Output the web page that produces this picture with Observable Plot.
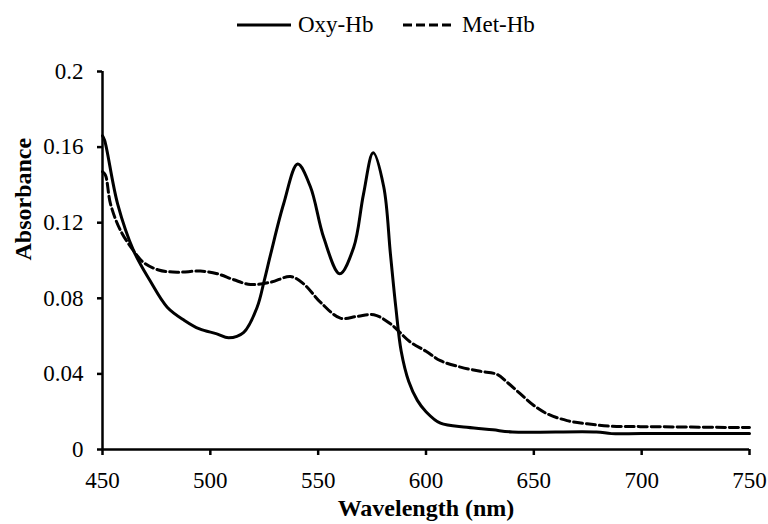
<!DOCTYPE html>
<html>
<head>
<meta charset="utf-8">
<script src="https://cdn.jsdelivr.net/npm/d3@7"></script>
<script src="https://cdn.jsdelivr.net/npm/@observablehq/plot@0.6"></script>
<style>
  html, body { margin: 0; padding: 0; background: #fff; }
  body { width: 768px; height: 524px; overflow: hidden; font-family: "Liberation Serif", "Tinos", "DejaVu Serif", serif; }
  #legend { position: relative; height: 50px; width: 768px; font-size: 23px; color: #000; }
  #legend .item { position: absolute; top: 11px; display: flex; align-items: center; height: 28px; white-space: nowrap; }
  #legend svg { margin-right: 7px; }
  #chart svg text { font-family: "Liberation Serif", "Tinos", "DejaVu Serif", serif; }
</style>
</head>
<body>
<div id="legend"></div>
<div id="chart"></div>
<script>
// Oxy-Hb (solid) spectrum: wavelength (nm), absorbance
const oxyWavelength = [450, 451, 457, 464.5, 472, 480, 488, 495, 503, 508.5, 515.5, 521.7, 525, 528, 534, 540.5, 546.4, 552.6, 560, 566.5, 571, 575.5, 580.4, 583.5, 586, 588.5, 592, 596, 600, 606.7, 619, 631, 640, 679, 686, 700, 750];
const oxyAbsorbance = [0.166, 0.1635, 0.130, 0.105, 0.0894, 0.0753, 0.0683, 0.0638, 0.0612, 0.0591, 0.062, 0.0753, 0.0894, 0.1035, 0.130, 0.151, 0.139, 0.112, 0.093, 0.107, 0.135, 0.157, 0.139, 0.1035, 0.0753, 0.052, 0.036, 0.026, 0.020, 0.0139, 0.0118, 0.0104, 0.0093, 0.0093, 0.0084, 0.0084, 0.0084];

// Met-Hb (dashed) spectrum
const metWavelength = [450, 451.4, 453.7, 458.3, 464.5, 469, 476, 484.6, 495.4, 503.2, 510.9, 518.6, 528, 537.2, 543.3, 551, 560.3, 568, 575.8, 583.5, 592.8, 600, 606.7, 616, 625.2, 633, 637.6, 643.8, 650, 656.2, 665.4, 674.7, 685.5, 699.4, 750];
const metAbsorbance = [0.147, 0.145, 0.130, 0.116, 0.105, 0.099, 0.095, 0.0938, 0.0944, 0.093, 0.0898, 0.0873, 0.0885, 0.0915, 0.0876, 0.078, 0.0695, 0.0704, 0.0713, 0.0665, 0.0568, 0.052, 0.047, 0.0436, 0.0414, 0.0397, 0.0356, 0.0294, 0.0233, 0.0189, 0.0153, 0.0136, 0.0123, 0.0121, 0.0116];

const seriesNames = ["Oxy-Hb", "Met-Hb"];
const xTicks = [450, 500, 550, 600, 650, 700, 750];
const yTicks = [0, 0.04, 0.08, 0.12, 0.16, 0.2];
const xLabel = "Wavelength (nm)";
const yLabel = "Absorbance";

const oxy = oxyWavelength.map((w, i) => ({w, a: oxyAbsorbance[i]}));
const met = metWavelength.map((w, i) => ({w, a: metAbsorbance[i]}));

const serif = "'Liberation Serif', 'Tinos', 'DejaVu Serif', serif";

// Legend
const legend = document.getElementById("legend");
const legendItems = [
  {name: seriesNames[0], left: 237, dash: null, len: 54},
  {name: seriesNames[1], left: 403, dash: "9,4", len: 52}
];
for (const it of legendItems) {
  const div = document.createElement("div");
  div.className = "item";
  div.style.left = it.left + "px";
  div.innerHTML = `<svg width="${it.len}" height="10"><line x1="0" x2="${it.len}" y1="5" y2="5" stroke="#000" stroke-width="3" ${it.dash ? `stroke-dasharray="${it.dash}"` : ""}/></svg><span>${it.name}</span>`;
  legend.appendChild(div);
}

const chart = Plot.plot({
  width: 768,
  height: 474,
  marginLeft: 102,
  marginRight: 19,
  marginTop: 21,
  marginBottom: 75,
  style: {fontFamily: serif, fontSize: "23px", color: "#000", background: "#fff", overflow: "visible"},
  x: {domain: [450, 750]},
  y: {domain: [0, 0.2]},
  marks: [
    Plot.axisX({ticks: xTicks, tickSize: 6, tickPadding: 16, tickFormat: d => String(d), label: null, strokeWidth: 2.5, fontSize: 23, fontFamily: serif}),
    Plot.axisY({ticks: yTicks, tickSize: 5, tickPadding: 14, tickFormat: d => String(d), label: null, strokeWidth: 2.5, fontSize: 23, fontFamily: serif}),
    Plot.ruleY([0], {stroke: "#000", strokeWidth: 2.5}),
    Plot.ruleX([450], {stroke: "#000", strokeWidth: 2.5}),
    Plot.line(met, {x: "w", y: "a", curve: "catmull-rom", stroke: "#000", strokeWidth: 3, strokeDasharray: "9,4"}),
    Plot.line(oxy, {x: "w", y: "a", curve: "catmull-rom", stroke: "#000", strokeWidth: 3}),
    Plot.text([xLabel], {frameAnchor: "bottom", dy: 66, fontWeight: "bold", fontSize: 24, fill: "#000", fontFamily: serif}),
    Plot.text([yLabel], {frameAnchor: "left", dx: -79, rotate: -90, fontWeight: "bold", fontSize: 24, fill: "#000", fontFamily: serif})
  ]
});
document.getElementById("chart").appendChild(chart);
</script>
</body>
</html>
